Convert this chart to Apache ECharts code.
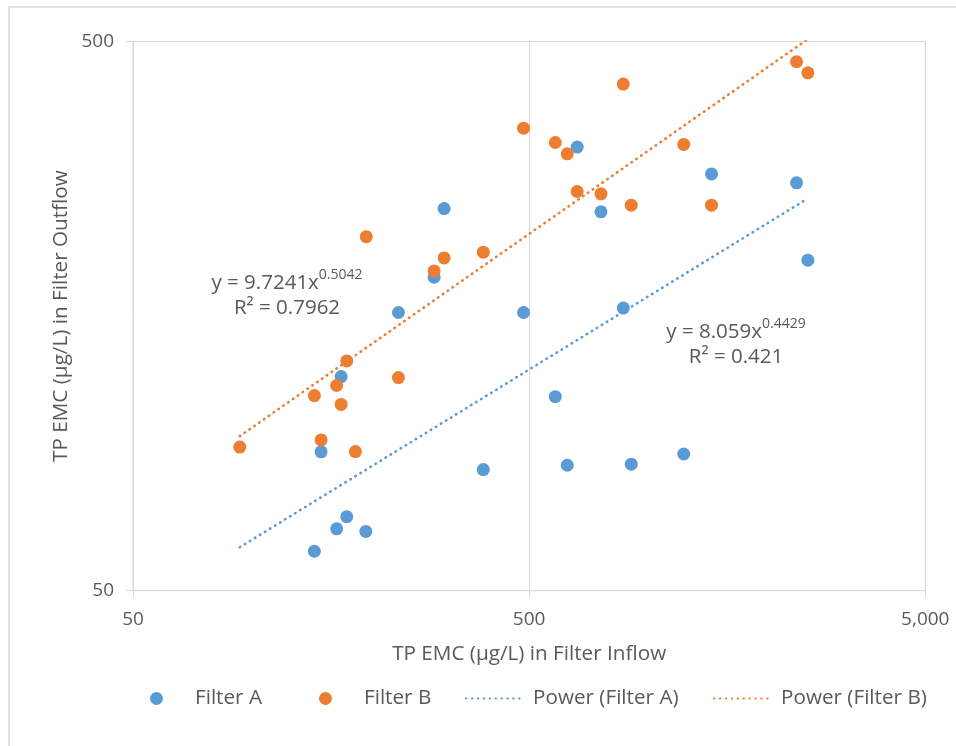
<!DOCTYPE html>
<html>
<head>
<meta charset="utf-8">
<title>TP EMC in Filter Inflow vs Outflow</title>
<script src="https://cdn.jsdelivr.net/npm/echarts@6/dist/echarts.min.js"></script>
<style>
  html, body { margin: 0; padding: 0; background: #fff; }
  #chart { width: 956px; height: 746px; }
</style>
</head>
<body>
<div id="chart"></div>
<script>
// ---- data (µg/L) ----
var inflowA  = [143.5, 149.2, 163.3, 167.6, 173.2, 193.5, 233.9, 287.8, 305, 383, 484, 582, 624, 661, 759, 864, 905, 1228, 1443, 2366, 2527];
var outflowA = [59.0, 89.5, 64.8, 122.7, 68.2, 64.1, 160.5, 186.1, 248.2, 83.1, 160.5, 112.8, 84.6, 321.2, 244.8, 163.5, 85.0, 88.7, 287, 276.5, 199.9];

var inflowB  = [93.0, 143.5, 149.2, 163.3, 167.6, 173.2, 182.1, 194, 233.9, 287.8, 305, 383, 484, 582, 624, 661, 759, 864, 905, 1228, 1443, 2366, 2527];
var outflowB = [91.3, 113.3, 94.1, 118.2, 109.2, 131.0, 89.6, 220.6, 122.2, 191.1, 201.8, 206.7, 347.7, 327.4, 312.2, 266.6, 264, 418.2, 251.7, 324.7, 251.7, 459.3, 438.5];

// power trendlines y = a * x^b as shown on the chart
var fitA = [8.059, 0.4429];
var fitB = [9.7241, 0.5042];
var r2A = '0.421';
var r2B = '0.7962';
var fitRange = [93, 2527];

var xTicks = [50, 500, 5000];
var yTicks = [50, 500];

var legendNames = ['Filter A', 'Filter B', 'Power (Filter A)', 'Power (Filter B)'];

var BLUE = '#5B9BD5';
var ORANGE = '#ED7D31';
var TEXT = '#595959';
var GRID = '#d9d9d9';
var FONT = '"Open Sans", "Noto Sans", sans-serif';

function zip(xs, ys) {
  return xs.map(function(x, i) { return [x, ys[i]]; });
}

function trend(coef) {
  return fitRange.map(function(x) { return [x, coef[0] * Math.pow(x, coef[1])]; });
}

function fmt(v) {
  return Math.round(v).toLocaleString('en-US');
}

var chart = echarts.init(document.getElementById('chart'));

var axisCommon = {
  type: 'log',
  logBase: 10,
  nameLocation: 'middle',
  nameMoveOverlap: false,
  nameTextStyle: { color: TEXT, fontFamily: FONT, fontSize: 20.7 },
  axisLine: { show: true, lineStyle: { color: GRID, width: 1 } },
  axisTick: { show: true, inside: false, length: 7, lineStyle: { color: GRID } },
  splitLine: { show: true, lineStyle: { color: GRID, width: 1 } },
  minorTick: { show: false },
  minorSplitLine: { show: false }
};

var dotStyle = [0.5, 5.4];

// one legend box per entry so every item sits where it does in the picture
var legendLefts = [145, 314, 460, 708];
var legends = legendNames.map(function(name, i) {
  var item = { name: name };
  if (i < 2) item.icon = 'circle';
  else item.itemStyle = { opacity: 0 };
  return {
    left: legendLefts[i], top: 683,
    itemWidth: 57, itemHeight: 13, itemGap: 0,
    textStyle: { color: TEXT, fontFamily: FONT, fontSize: 20.7, padding: [0, 0, 0, 5] },
    data: [item]
  };
});

var eqRich = {
  t: { fontFamily: FONT, fontSize: 20.5, lineHeight: 26, fill: TEXT, verticalAlign: 'bottom' },
  s: { fontFamily: FONT, fontSize: 14, lineHeight: 16, fill: TEXT, verticalAlign: 'top' }
};

chart.setOption({
  animation: false,
  backgroundColor: '#fff',
  textStyle: { fontFamily: FONT },
  grid: {
    left: 133, top: 41.5, right: 30.7, bottom: 155.3,
    containLabel: false,
    outerBoundsMode: 'none',
    show: true, borderColor: GRID, borderWidth: 1
  },
  xAxis: Object.assign({}, axisCommon, {
    min: 50, max: 5000,
    name: 'TP EMC (µg/L) in Filter Inflow',
    nameGap: 53,
    axisTick: Object.assign({}, axisCommon.axisTick, { customValues: xTicks }),
    axisLabel: {
      customValues: xTicks, formatter: fmt, margin: 19, hideOverlap: false,
      color: TEXT, fontFamily: FONT, fontSize: 19, showMinLabel: true, showMaxLabel: true
    }
  }),
  yAxis: Object.assign({}, axisCommon, {
    min: 50, max: 500,
    name: 'TP EMC (µg/L) in Filter Outflow',
    nameGap: 61,
    axisTick: Object.assign({}, axisCommon.axisTick, { customValues: yTicks }),
    axisLabel: {
      customValues: yTicks, formatter: fmt, margin: 19, hideOverlap: false,
      color: TEXT, fontFamily: FONT, fontSize: 19, showMinLabel: true, showMaxLabel: true
    }
  }),
  legend: legends,
  series: [
    {
      name: 'Filter A', type: 'scatter', symbol: 'circle', symbolSize: 13,
      itemStyle: { color: BLUE, opacity: 1 }, data: zip(inflowA, outflowA), z: 3
    },
    {
      name: 'Filter B', type: 'scatter', symbol: 'circle', symbolSize: 13,
      itemStyle: { color: ORANGE, opacity: 1 }, data: zip(inflowB, outflowB), z: 3
    },
    {
      name: 'Power (Filter A)', type: 'line', symbol: 'none', showSymbol: false, clip: true,
      lineStyle: { color: BLUE, width: 2.6, type: dotStyle, cap: 'round' },
      itemStyle: { color: BLUE },
      data: trend(fitA), z: 2
    },
    {
      name: 'Power (Filter B)', type: 'line', symbol: 'none', showSymbol: false, clip: true,
      lineStyle: { color: ORANGE, width: 2.6, type: dotStyle, cap: 'round' },
      itemStyle: { color: ORANGE },
      data: trend(fitB), z: 2
    }
  ],
  graphic: [
    // outer chart border (clipped on right/bottom as in the picture)
    {
      type: 'rect', z: -10, silent: true,
      shape: { x: 9, y: 7, width: 1200, height: 1200 },
      style: { fill: null, stroke: '#d9d9d9', lineWidth: 1.5 }
    },
    {
      type: 'text', x: 287, y: 281,
      style: {
        text: '{t|y = ' + fitB[0] + 'x}{s|' + fitB[1] + '}',
        align: 'center', verticalAlign: 'middle', fill: TEXT, rich: eqRich
      }
    },
    {
      type: 'text', x: 287, y: 308,
      style: { text: 'R² = ' + r2B, align: 'center', verticalAlign: 'middle', fill: TEXT, font: '20.5px ' + FONT }
    },
    {
      type: 'text', x: 736, y: 330,
      style: {
        text: '{t|y = ' + fitA[0] + 'x}{s|' + fitA[1] + '}',
        align: 'center', verticalAlign: 'middle', fill: TEXT, rich: eqRich
      }
    },
    {
      type: 'text', x: 736, y: 357,
      style: { text: 'R² = ' + r2A, align: 'center', verticalAlign: 'middle', fill: TEXT, font: '20.5px ' + FONT }
    }
  ]
});
</script>
</body>
</html>
